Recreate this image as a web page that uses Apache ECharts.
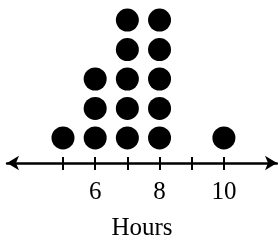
<!DOCTYPE html>
<html>
<head>
<meta charset="utf-8">
<script src="https://cdn.jsdelivr.net/npm/echarts@6/dist/echarts.min.js"></script>
<style>
  html, body { margin: 0; padding: 0; background: #fff; }
  #dot-plot { width: 278px; height: 241px; }
</style>
</head>
<body>
<div id="dot-plot"></div>
<script>
// dot plot data: how many dots stack above each hour value
const hours = [5, 6, 7, 8, 10];
const counts = [1, 3, 5, 5, 1];
const tickValues = [5, 6, 7, 8, 9, 10];
const labelValues = [6, 8, 10];
const axisTitle = "Hours";

const dots = [];
hours.forEach((h, i) => {
  for (let k = 1; k <= counts[i]; k++) dots.push([h, k]);
});

const chart = echarts.init(document.getElementById("dot-plot"), null, { renderer: "canvas" });
const font = "Liberation Serif";

chart.setOption({
  animation: false,
  textStyle: { fontFamily: font },
  grid: { left: 7, right: 1, top: 0, bottom: 78, outerBoundsMode: "none" },
  xAxis: [
    {
      type: "value",
      min: 3.26,
      max: 11.65,
      splitLine: { show: false },
      axisLine: {
        onZero: false,
        symbol: ["arrow", "arrow"],
        symbolSize: [11, 12],
        lineStyle: { color: "#000", width: 2.5 }
      },
      axisTick: {
        customValues: tickValues,
        length: 7,
        lineStyle: { color: "#000", width: 2 }
      },
      axisLabel: {
        customValues: labelValues,
        margin: 17,
        color: "#000",
        fontSize: 25,
        fontFamily: font
      },
      name: axisTitle,
      nameLocation: "middle",
      nameGap: 53,
      nameTextStyle: { color: "#000", fontSize: 25, fontFamily: font }
    },
    {
      // second copy of the axis only to draw the upper half of each tick
      type: "value",
      position: "bottom",
      min: 3.26,
      max: 11.65,
      splitLine: { show: false },
      axisLine: { show: false, onZero: false },
      axisTick: {
        inside: true,
        customValues: tickValues,
        length: 6,
        lineStyle: { color: "#000", width: 2 }
      },
      axisLabel: { show: false }
    }
  ],
  yAxis: {
    type: "value",
    min: 0.15,
    max: 5.68,
    show: false
  },
  series: [
    {
      type: "scatter",
      xAxisIndex: 0,
      symbol: "circle",
      symbolSize: 23,
      itemStyle: { color: "#000", opacity: 1 },
      data: dots
    }
  ]
});
</script>
</body>
</html>
